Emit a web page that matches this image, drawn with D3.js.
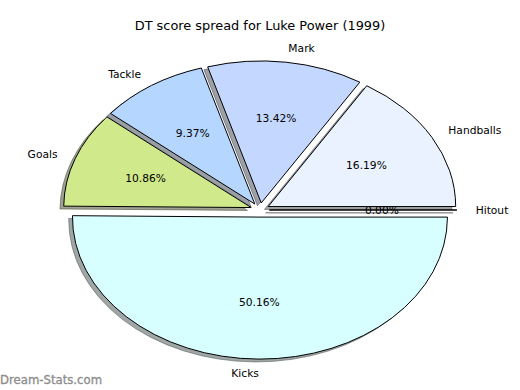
<!DOCTYPE html>
<html>
<head>
<meta charset="utf-8">
<script src="https://cdn.jsdelivr.net/npm/d3@7"></script>
<style>
  body { margin: 0; background: #fff; }
  text { font-family: "DejaVu Sans", sans-serif; }
</style>
</head>
<body>
<svg class="pie" width="520" height="390"></svg>
<script>
// categories and their share of the DT score (%)
var categories = ["Handballs", "Mark", "Tackle", "Goals", "Kicks", "Hitout"];
var shares = [16.19, 13.42, 9.37, 10.86, 50.16, 0.00];
var sliceColors = ["#eaf2ff", "#c4d8ff", "#b4d6ff", "#d0e98b", "#d8ffff", "#ffffff"];
var explode = 0.05;

var svg = d3.select("svg.pie");

// ellipse scales: pie lives in [-1, 1] data units
var cx = 260, cy = 210, rx = 187.5, ry = 142;
var x = d3.scaleLinear().domain([-1, 1]).range([cx - rx, cx + rx]);
var y = d3.scaleLinear().domain([-1, 1]).range([cy + ry, cy - ry]);

// pie angles, counter-clockwise from 3 o'clock like matplotlib
var pie = d3.pie().sort(null).startAngle(0).endAngle(2 * Math.PI);
var arcs = pie(shares).map(function(d, i) {
    var mid = (d.startAngle + d.endAngle) / 2;
    return {
        name: categories[i],
        value: shares[i],
        color: sliceColors[i],
        a0: d.startAngle,
        a1: d.endAngle,
        mid: mid,
        ox: explode * Math.cos(mid),
        oy: explode * Math.sin(mid)
    };
});

function wedgePath(d, dx, dy) {
    var px = function(v) { return x(v) + dx; };
    var py = function(v) { return y(v) + dy; };
    var large = (d.a1 - d.a0) > Math.PI ? 1 : 0;
    return "M" + px(d.ox) + "," + py(d.oy) +
        "L" + px(d.ox + Math.cos(d.a0)) + "," + py(d.oy + Math.sin(d.a0)) +
        "A" + rx + "," + ry + " 0 " + large + " 0 " +
        px(d.ox + Math.cos(d.a1)) + "," + py(d.oy + Math.sin(d.a1)) + "Z";
}

function shade(col) {
    var c = d3.rgb(col);
    return d3.rgb(c.r * 0.3, c.g * 0.3, c.b * 0.3);
}

// shadows (offset -0.02, -0.02 in data units)
var sdx = x(-0.02) - x(0), sdy = y(-0.02) - y(0);
svg.append("g").selectAll("path")
    .data(arcs)
    .enter().append("path")
    .attr("d", function(d) { return wedgePath(d, sdx, sdy); })
    .attr("fill", function(d) { return shade(d.color); })
    .attr("stroke", function(d) { return shade(d.color); })
    .attr("fill-opacity", 0.5)
    .attr("stroke-opacity", 0.5)
    .attr("stroke-width", 1);

// wedges
svg.append("g").selectAll("path")
    .data(arcs)
    .enter().append("path")
    .attr("d", function(d) { return wedgePath(d, 0, 0); })
    .attr("fill", function(d) { return d.color; })
    .attr("stroke", "#000")
    .attr("stroke-width", 1);

// category labels at 1.1 r
svg.append("g").selectAll("text")
    .data(arcs)
    .enter().append("text")
    .attr("x", function(d) { return x(d.ox + 1.1 * Math.cos(d.mid)); })
    .attr("y", function(d) { return y(d.oy + 1.1 * Math.sin(d.mid)); })
    .attr("dy", "0.35em")
    .attr("font-size", "10.7px")
    .attr("fill", "#000")
    .attr("text-anchor", function(d) {
        return (d.ox + 1.1 * Math.cos(d.mid)) > 0 ? "start" : "end";
    })
    .text(function(d) { return d.name; });

// percentages at 0.6 r
svg.append("g").selectAll("text")
    .data(arcs)
    .enter().append("text")
    .attr("x", function(d) { return x(d.ox + 0.6 * Math.cos(d.mid)); })
    .attr("y", function(d) { return y(d.oy + 0.6 * Math.sin(d.mid)); })
    .attr("dy", "0.35em")
    .attr("font-size", "10.7px")
    .attr("fill", "#000")
    .attr("text-anchor", "middle")
    .text(function(d) { return d3.format(".2f")(d.value) + "%"; });

// title
svg.append("text")
    .attr("x", 260)
    .attr("y", 29.5)
    .attr("text-anchor", "middle")
    .attr("font-size", "12.9px")
    .attr("fill", "#000")
    .text("DT score spread for Luke Power (1999)");

// watermark
svg.append("text")
    .attr("x", 0)
    .attr("y", 384)
    .attr("font-size", "11.7px")
    .attr("fill", "#8c8c8c")
    .attr("stroke", "#8c8c8c")
    .attr("stroke-width", 0.3)
    .text("Dream-Stats.com");
</script>
</body>
</html>
